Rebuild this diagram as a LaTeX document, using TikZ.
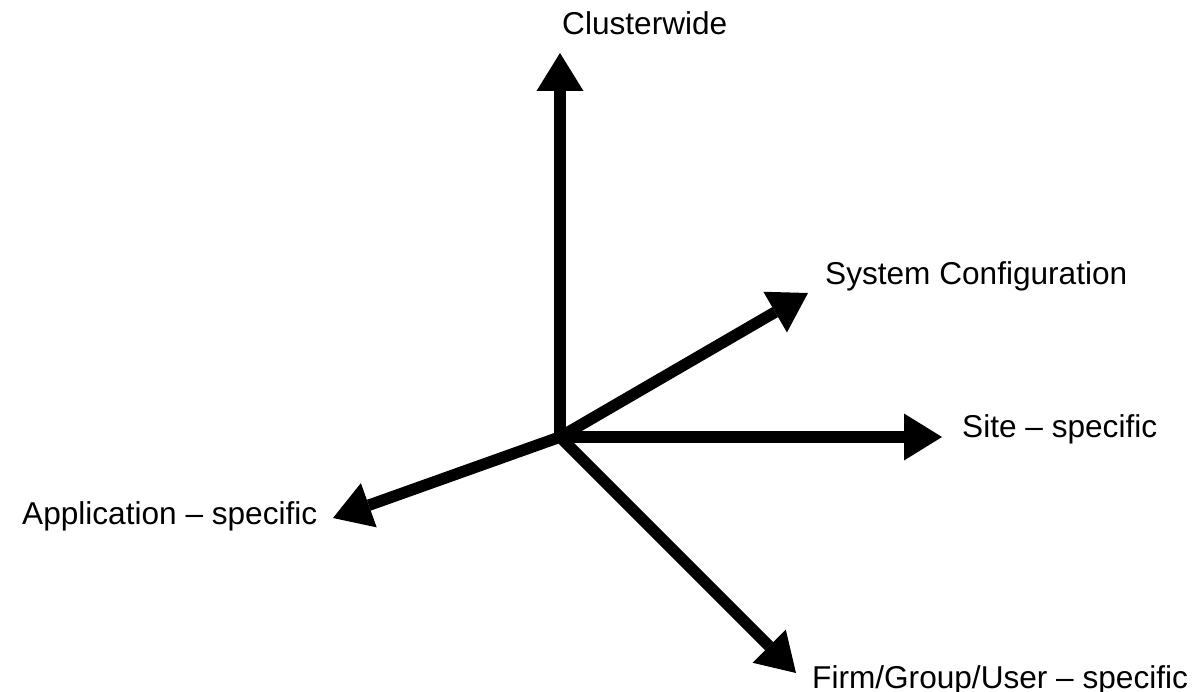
\documentclass[tikz,border=0pt]{standalone}
\usepackage{fontspec}
\setmainfont{Liberation Sans}
\usetikzlibrary{arrows.meta}
\begin{document}
\begin{tikzpicture}[x=1bp,y=-1bp,
  axis/.style={line width=11.5bp,-{Triangle[length=38bp,width=47bp,line width=0pt]}},
  lbl/.style={inner sep=0pt,anchor=base west,font=\fontsize{31.6bp}{38bp}\selectfont}]
\useasboundingbox[fill=white] (0,0) rectangle (1198,692);
\coordinate (o) at (560,437);
\coordinate (up) at (560,53);
\coordinate (sys) at (808,293);
\coordinate (site) at (942,437);
\coordinate (app) at (333,518);
\coordinate (firm) at (796,673);
\draw[axis] (o) -- (up);
\draw[axis] (o) -- (sys);
\draw[axis] (o) -- (site);
\draw[axis] (o) -- (app);
\draw[axis] (o) -- (firm);
\node[lbl] (tclu) at (562,35) {Clusterwide};
\node[lbl] (tsys) at (825,284) {System Configuration};
\node[lbl] (tsite) at (962,437) {Site – specific};
\node[lbl] (tapp) at (22,524) {Application – specific};
\node[lbl] (tfirm) at (812,688) {Firm/Group/User – specific};
\end{tikzpicture}
\end{document}
